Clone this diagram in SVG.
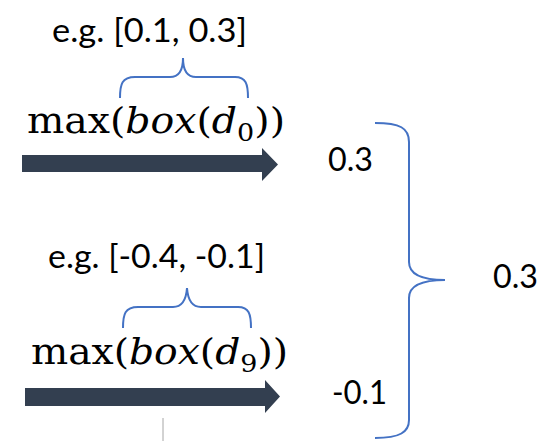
<svg xmlns="http://www.w3.org/2000/svg" width="549" height="441" viewBox="0 0 549 441">
<style>
.lbl{font-family:Lato,"Liberation Sans",sans-serif;font-size:33px;fill:#000}
.m{font-family:"DejaVu Serif","Liberation Serif",serif;font-size:35px;fill:#000}
.i{font-style:italic}
.sub{font-size:24px}
.brace{fill:none;stroke:#4472C4;stroke-width:2}
.arrow{fill:#333F50}
</style>
<rect width="549" height="441" fill="#fff"/>
<g id="top">
<text class="lbl" x="52" y="42" textLength="195" lengthAdjust="spacingAndGlyphs">e.g. [0.1, 0.3]</text>
<path class="brace" d="M120,98 C120,84 122,77 135,77 L170,77 C178,77 183,72 183,58 C183,72 188,77 196,77 L235,77 C246,77 248,84 248,98"/>
<text class="m" x="27" y="133" textLength="258" lengthAdjust="spacingAndGlyphs">max(<tspan class="i">box</tspan>(<tspan class="i">d</tspan><tspan class="sub" dy="8">0</tspan><tspan dy="-8">))</tspan></text>
</g>
<g id="bottom">
<text class="lbl" x="48" y="268" textLength="217" lengthAdjust="spacingAndGlyphs">e.g. [-0.4, -0.1]</text>
<path class="brace" d="M123,328 C123,314 125,307 138,307 L173,307 C181,307 186,302 187,288 C188,302 193,307 201,307 L238,307 C249,307 251,314 251,328"/>
<text class="m" x="31" y="364" textLength="257" lengthAdjust="spacingAndGlyphs">max(<tspan class="i">box</tspan>(<tspan class="i">d</tspan><tspan class="sub" dy="8">9</tspan><tspan dy="-8">))</tspan></text>
</g>
<g id="connectors">
<polygon class="arrow" points="22,155 262,155 262,148 278,164.5 262,181 262,172 22,172"/>
<polygon class="arrow" points="25,388 265,388 265,380 280,396.5 265,413 265,406 25,406"/>
</g>
<g id="right">
<text class="lbl" x="328" y="171" textLength="45" lengthAdjust="spacingAndGlyphs">0.3</text>
<text class="lbl" x="332" y="404" textLength="55" lengthAdjust="spacingAndGlyphs">-0.1</text>
<path class="brace" d="M375,123 C400,123 409,128 409,142 L409,262 C409,274 420,280 445,280 C420,280 409,286 409,298 L409,420 C409,432 400,438 375,438"/>
<text class="lbl" x="493" y="288" textLength="45" lengthAdjust="spacingAndGlyphs">0.3</text>
</g>
<line x1="163" y1="418" x2="163" y2="441" stroke="#A6A6A6" stroke-width="1"/>
</svg>
